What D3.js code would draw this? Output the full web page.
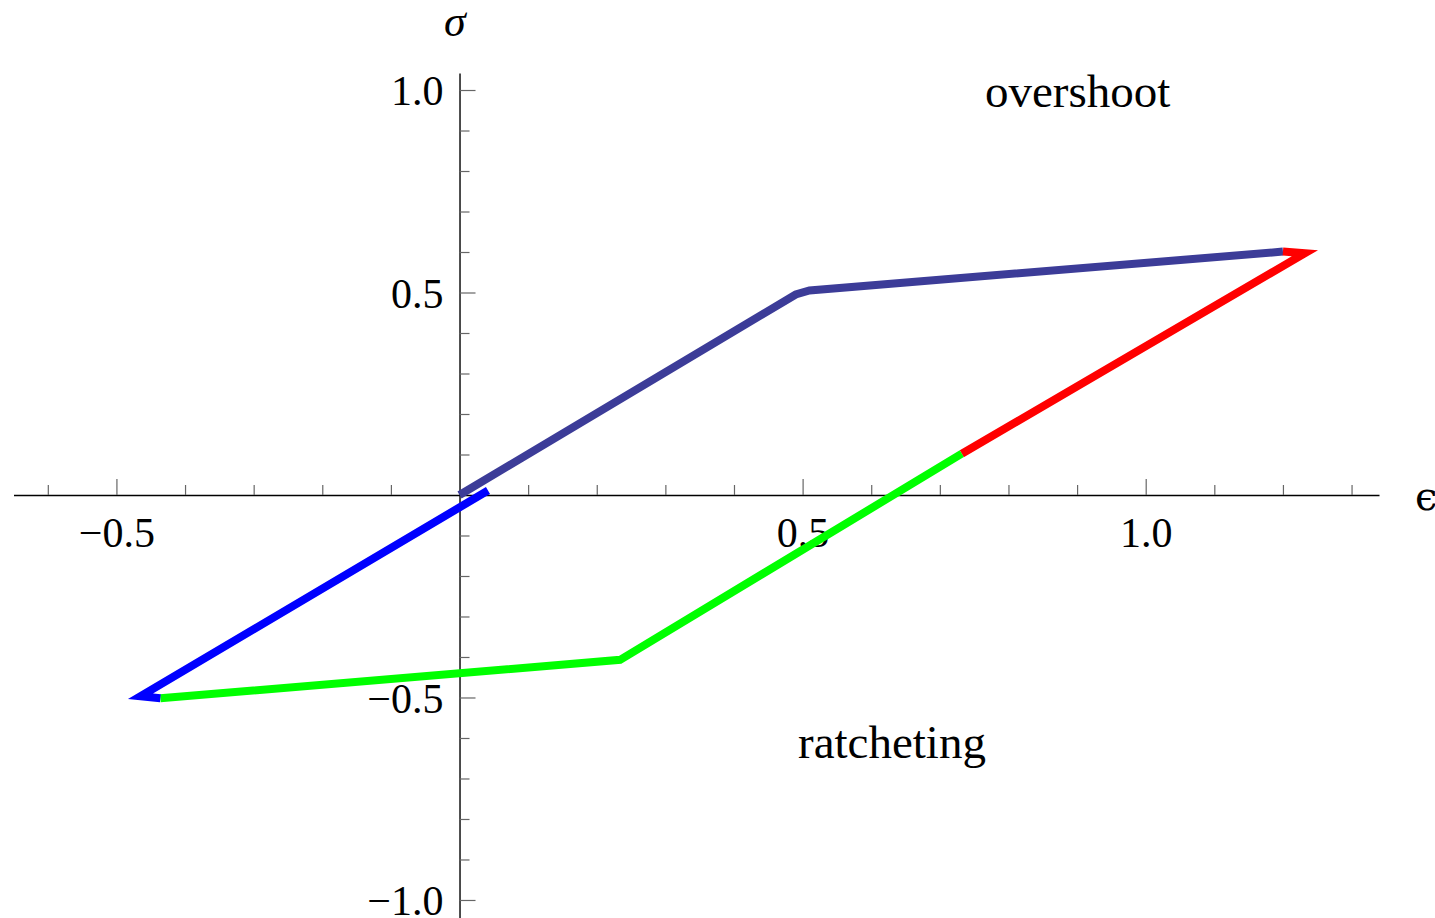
<!DOCTYPE html>
<html>
<head>
<meta charset="utf-8">
<script src="https://cdn.jsdelivr.net/npm/d3@7"></script>
<style>
  html, body { margin: 0; padding: 0; background: #fff; }
  svg { display: block; }
  .tick text { font-family: "Liberation Serif", "Times New Roman", serif; fill: #000; }
  .note { font-family: "Liberation Serif", "Times New Roman", serif; }
</style>
</head>
<body>
<div id="container"></div>
<script>
// loading path pieces, (epsilon, sigma)
var loadingUp = [[0, 0], [0.49, 0.495], [0.51, 0.505], [1.2, 0.601]];
var unloadRed = [[1.2, 0.601], [1.232, 0.597], [0.732, 0.102]];
var unloadGreen = [[0.732, 0.102], [0.234, -0.407], [-0.436, -0.502]];
var reloadBlue = [[-0.436, -0.502], [-0.465, -0.497], [0.0415, 0.011]];

var xMajor = [-0.5, 0.5, 1.0];
var yMajor = [-1.0, -0.5, 0.5, 1.0];
var xMinor = [-0.6, -0.4, -0.3, -0.2, -0.1, 0.1, 0.2, 0.3, 0.4, 0.6, 0.7, 0.8, 0.9, 1.1, 1.2, 1.3];
var yMinor = [-0.9, -0.8, -0.7, -0.6, -0.4, -0.3, -0.2, -0.1, 0.1, 0.2, 0.3, 0.4, 0.6, 0.7, 0.8, 0.9];

var width = 1435, height = 918;

var svg = d3.select("#container")
  .append("svg")
  .attr("width", width)
  .attr("height", height);

var x = d3.scaleLinear().domain([-0.65, 1.34]).range([13.5, 1379]);
var y = d3.scaleLinear().domain([-1.044, 1.042]).range([917.8, 73]);

var fmt = function (d) { return d3.format(".1f")(d).replace("-", "\u2212"); };

// x axis (ticks point up, labels below)
var xg = svg.append("g").attr("transform", "translate(0," + y(0) + ")");
xg.call(d3.axisBottom(x).tickValues(xMinor).tickSizeInner(-10).tickSizeOuter(0).tickFormat(""));
xg.append("g").call(d3.axisBottom(x).tickValues(xMajor).tickSizeInner(-16).tickSizeOuter(0).tickPadding(22).tickFormat(fmt));
xg.selectAll("g g .domain").remove();
xg.selectAll(".domain").attr("stroke", "#000").attr("stroke-width", 1.4);
xg.selectAll(".tick line").attr("stroke", "#666").attr("stroke-width", 1.2);
xg.selectAll(".tick text").attr("font-size", 42).attr("dy", "0.71em");

// y axis (ticks point right, labels left)
var yg = svg.append("g").attr("transform", "translate(" + x(0) + ",0)");
yg.call(d3.axisLeft(y).tickValues(yMinor).tickSizeInner(-10).tickSizeOuter(0).tickFormat(""));
yg.append("g").call(d3.axisLeft(y).tickValues(yMajor).tickSizeInner(-16).tickSizeOuter(0).tickPadding(16).tickFormat(fmt));
yg.selectAll("g g .domain").remove();
yg.selectAll(".domain").attr("stroke", "#000").attr("stroke-width", 1.4);
yg.selectAll(".tick line").attr("stroke", "#666").attr("stroke-width", 1.2);
yg.selectAll(".tick text").attr("font-size", 42).attr("dy", "0.35em");

// the hysteresis path
var line = d3.line()
  .x(function (d) { return x(d[0]); })
  .y(function (d) { return y(d[1]); });

var pieces = [
  { data: loadingUp, color: "#3c3c98" },
  { data: unloadRed, color: "#ff0000" },
  { data: unloadGreen, color: "#00ff00" },
  { data: reloadBlue, color: "#0000ff" }
];

svg.append("g").selectAll("path")
  .data(pieces)
  .enter().append("path")
  .attr("d", function (d) { return line(d.data); })
  .attr("fill", "none")
  .attr("stroke", function (d) { return d.color; })
  .attr("stroke-width", 8)
  .attr("stroke-linejoin", "miter")
  .attr("stroke-linecap", "butt");

// axis names
svg.append("text").attr("class", "note")
  .attr("x", 444).attr("y", 36)
  .attr("font-size", 44).attr("font-style", "italic")
  .text("\u03c3");

svg.append("text").attr("class", "note")
  .attr("x", 1415).attr("y", 510)
  .attr("font-size", 40)
  .style("font-family", "'DejaVu Serif', serif")
  .text("\u03f5");

// annotations
svg.append("text").attr("class", "note")
  .attr("x", 985).attr("y", 106.5)
  .attr("font-size", 47)
  .text("overshoot");

svg.append("text").attr("class", "note")
  .attr("x", 798).attr("y", 758)
  .attr("font-size", 47)
  .text("ratcheting");
</script>
</body>
</html>
